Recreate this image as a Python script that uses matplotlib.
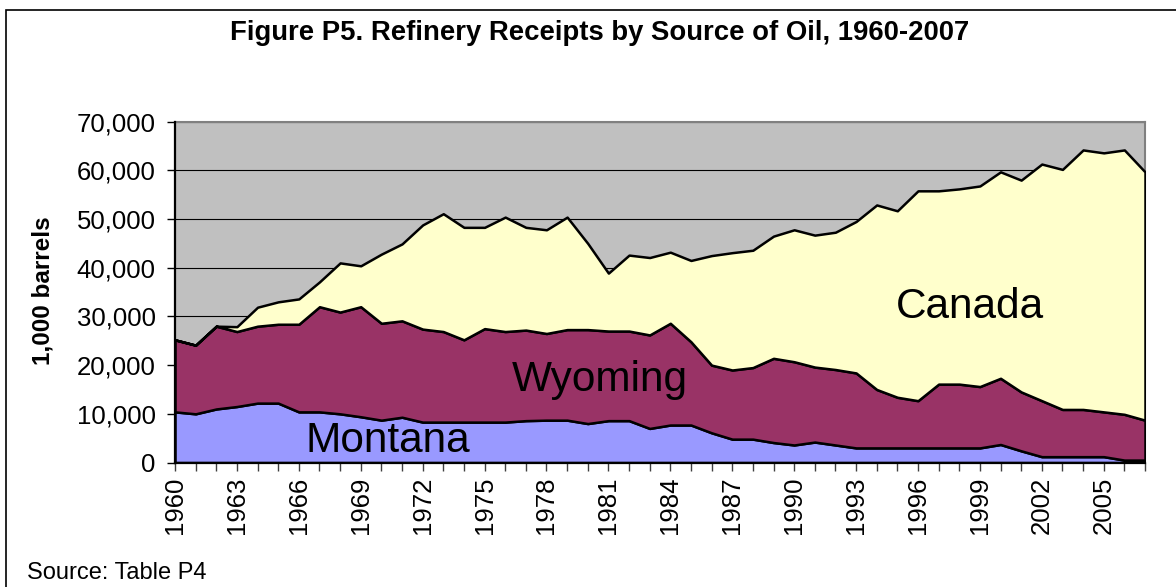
import numpy as np
import matplotlib.pyplot as plt
from matplotlib.patches import Rectangle

plt.rcParams['font.family'] = ['Liberation Sans', 'DejaVu Sans']

# Refinery receipts, 1,000 barrels
years = list(range(1960, 2008))
montana = [10.4, 10.0, 11.0, 11.5, 12.2, 12.2, 10.4, 10.4, 10.0, 9.4,
           8.7, 9.3, 8.3, 8.3, 8.3, 8.3, 8.3, 8.6, 8.7, 8.7,
           8.0, 8.6, 8.6, 7.0, 7.7, 7.7, 6.1, 4.8, 4.8, 4.1,
           3.6, 4.2, 3.6, 3.0, 3.0, 3.0, 3.0, 3.0, 3.0, 3.0,
           3.7, 2.4, 1.2, 1.2, 1.2, 1.2, 0.5, 0.5]
mt_wy_top = [25.2, 24.1, 28.0, 26.9, 28.0, 28.4, 28.4, 32.0, 30.9, 32.0,
             28.6, 29.1, 27.4, 26.9, 25.2, 27.5, 26.9, 27.2, 26.5, 27.3,
             27.3, 27.0, 27.0, 26.2, 28.6, 24.8, 20.0, 19.0, 19.5, 21.4,
             20.7, 19.6, 19.1, 18.4, 15.0, 13.4, 12.7, 16.1, 16.1, 15.6,
             17.3, 14.5, 12.7, 10.9, 10.9, 10.4, 9.9, 8.7]
total = [25.2, 24.1, 28.0, 27.9, 31.9, 33.0, 33.6, 37.1, 41.0, 40.4,
         42.8, 44.9, 48.8, 51.1, 48.3, 48.3, 50.4, 48.3, 47.8, 50.4,
         45.0, 38.9, 42.6, 42.1, 43.2, 41.5, 42.5, 43.1, 43.6, 46.5,
         47.8, 46.7, 47.3, 49.5, 52.9, 51.7, 55.8, 55.8, 56.2, 56.8,
         59.7, 58.0, 61.3, 60.2, 64.2, 63.6, 64.2, 59.7]

montana = np.array(montana) * 1000
wyoming = np.array(mt_wy_top) * 1000 - montana
canada = np.array(total) * 1000 - np.array(mt_wy_top) * 1000

W, H = 1176, 587
fig = plt.figure(figsize=(W / 100, H / 100), dpi=100)
fig.patches.append(Rectangle((6 / W, -0.1), 1.2, 1 - 10 / H + 0.1, transform=fig.transFigure,
                             fill=False, edgecolor='black', linewidth=1.2))

ax = fig.add_axes([175 / W, (H - 462.5) / H, 970 / W, 340.8 / H])
ax.set_facecolor('#C0C0C0')
ax.stackplot(years, montana, wyoming, canada,
             colors=['#9999FF', '#993366', '#FFFFCC'],
             edgecolor='black', linewidth=1.8, zorder=3)

ax.set_xlim(1960, 2007)
ax.set_ylim(0, 70000)
ax.set_yticks(range(0, 70001, 10000))
ax.set_yticklabels([f'{v:,}' for v in range(0, 70001, 10000)], fontsize=18.5)
ax.yaxis.grid(True, color='black', linewidth=0.8)
ax.set_axisbelow(True)

ax.set_xticks(years, minor=True)
ax.set_xticks(years[::3])
ax.set_xticklabels([str(y) for y in years[::3]], rotation=90, fontsize=18.5)
ax.tick_params(axis='x', which='both', direction='out', length=6, width=1, color='#404040', pad=4)
ax.tick_params(axis='y', direction='out', length=6, width=1, pad=8)

for side in ['left', 'bottom']:
    ax.spines[side].set_linewidth(1.6)
    ax.spines[side].set_zorder(5)
for side in ['top', 'right']:
    ax.spines[side].set_color('#808080')
    ax.spines[side].set_linewidth(1.5)

fig.text(43 / W, 1 - 291 / H, '1,000 barrels', fontsize=17.5, fontweight='bold',
         rotation=90, ha='center', va='center')

ax.text(1970.3, 4500, 'Montana', fontsize=30.5, ha='center', va='center', zorder=6)
ax.text(1980.6, 17000, 'Wyoming', fontsize=30.5, ha='center', va='center', zorder=6)
ax.text(1998.5, 32000, 'Canada', fontsize=30.5, ha='center', va='center', zorder=6)

fig.text(600 / W, 1 - 33 / H, 'Figure P5. Refinery Receipts by Source of Oil, 1960-2007',
         fontsize=19.8, fontweight='bold', ha='center', va='center')
fig.text(27 / W, 1 - 573 / H, 'Source: Table P4', fontsize=17, ha='left', va='center')

fig.savefig('out.png', dpi=100)
